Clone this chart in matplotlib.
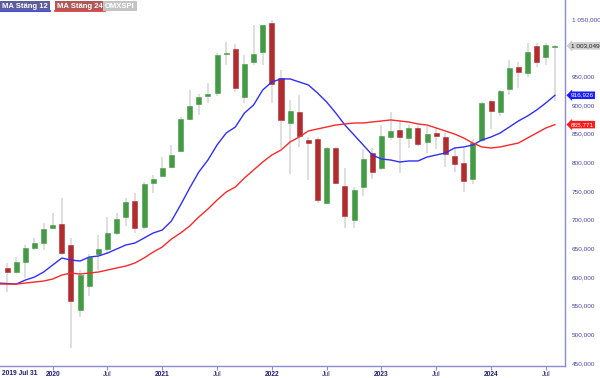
import matplotlib
matplotlib.use("Agg")
import matplotlib.pyplot as plt
from matplotlib.lines import Line2D
import numpy as np

# Månadsdata OMXSPI, aug 2019 - aug 2024
opens = [616, 609, 626, 651, 659, 686, 692, 656, 542, 584, 640, 649, 677, 705, 733, 687,
         764, 776, 792, 820, 876, 902, 916, 921, 989, 998, 914, 975, 992, 1043, 947, 869,
         888, 839, 841, 729, 825, 759, 699, 757, 816, 790, 844, 856, 842, 860, 835, 851,
         844, 811, 799, 771, 839, 907, 888, 928, 966, 956, 1003, 984, 1001]
highs = [624, 635, 656, 668, 694, 712, 738, 668, 612, 640, 673, 705, 712, 738, 747, 766,
         778, 809, 830, 879, 926, 919, 938, 991, 1010, 1006, 987, 1040, 1040, 1048, 961, 909,
         917, 844, 844, 827, 827, 790, 757, 823, 825, 865, 888, 874, 865, 863, 863, 860,
         851, 825, 825, 841, 906, 909, 926, 978, 975, 1008, 1008, 1008, 1005]
lows = [574, 607, 598, 647, 647, 686, 638, 476, 530, 567, 612, 640, 673, 689, 677, 684,
        747, 774, 790, 818, 874, 883, 903, 916, 970, 923, 903, 970, 970, 903, 825, 780,
        827, 769, 729, 727, 762, 686, 686, 741, 771, 787, 839, 781, 825, 829, 816, 823,
        792, 783, 748, 762, 836, 858, 881, 917, 930, 949, 966, 970, 907]
closes = [609, 626, 651, 659, 684, 691, 642, 558, 603, 635, 649, 677, 701, 731, 686, 762,
          771, 790, 813, 876, 898, 914, 919, 987, 991, 930, 972, 989, 1040, 937, 874, 890,
          846, 834, 734, 825, 764, 706, 752, 806, 783, 846, 855, 844, 860, 832, 849, 846,
          815, 797, 767, 834, 904, 890, 924, 965, 958, 992, 975, 1005, 1003.049]

# glidande medelvärden (första punkten = juli 2019)
ma12 = [589.6, 588.7, 587.8, 594.8, 600.0, 608.8, 621.0, 633.2, 629.7, 628.0, 634.9, 636.7,
        641.9, 648.9, 655.9, 659.3, 668.0, 676.8, 682.0, 697.7, 725.6, 755.3, 783.2, 804.1,
        830.3, 851.2, 861.6, 886.0, 900.0, 926.2, 940.1, 945.4, 945.4, 940.1, 934.9, 920.9,
        905.2, 886.0, 865.1, 847.7, 830.3, 812.8, 805.8, 804.1, 800.6, 802.4, 802.4, 809.3,
        812.8, 816.3, 825.0, 826.8, 830.3, 839.0, 844.2, 851.2, 861.6, 872.1, 880.8, 891.3,
        903.5, 916.926]
ma24 = [588.0, 587.8, 587.8, 589.6, 591.3, 593.1, 596.6, 603.5, 607.0, 605.3, 607.0, 608.8,
        612.3, 615.8, 619.2, 624.5, 633.2, 643.6, 652.4, 666.3, 676.8, 689.0, 704.7, 718.6,
        734.3, 748.3, 757.0, 772.7, 786.7, 800.6, 812.8, 821.5, 835.5, 844.2, 854.7, 858.2,
        861.6, 865.1, 866.9, 868.6, 868.6, 870.4, 872.1, 873.9, 872.1, 870.4, 866.9, 865.1,
        859.9, 854.7, 849.4, 842.5, 833.7, 826.8, 825.0, 826.8, 830.3, 833.7, 842.5, 851.2,
        859.9, 865.771]

tick_pos = [5, 11, 17, 23, 29, 35, 41, 47, 53, 59]
tick_labels = ["2020", "Jul", "2021", "Jul", "2022", "Jul", "2023", "Jul", "2024", "Jul"]
y_ticks = [450, 500, 550, 600, 650, 700, 750, 800, 850, 900, 950, 1050]


def fmt(v):
    s = f"{v:,.3f}"
    return s.replace(",", " ").replace(".", ",")


def main():
    plt.rcParams['font.family'] = ['Liberation Sans', 'DejaVu Sans']
    fig = plt.figure(figsize=(6, 3.78), dpi=100)
    ax = fig.add_axes([0, 12 / 378, 565 / 600, 366 / 378])

    x = np.arange(len(opens))
    o = np.array(opens, dtype=float)
    c = np.array(closes, dtype=float)
    up = c >= o
    green = '#459a45'
    red = '#b02c2f'
    cols = [green if u else red for u in up]

    ax.vlines(x, lows, highs, color='#d6d6d6', linewidth=1.1, zorder=1)
    bottoms = np.minimum(o, c)
    heights = np.maximum(np.abs(c - o), 1.5)
    ax.bar(x, heights, bottom=bottoms, width=0.55, color=cols, edgecolor=cols,
           linewidth=0.4, zorder=2)

    xm = np.arange(-1, len(opens))
    ax.plot(xm, ma12, color='#2f2ff5', linewidth=1.0, zorder=3)
    ax.plot(xm, ma24, color='#f52a2a', linewidth=1.0, zorder=3)

    ax.set_xlim(-0.77, 61.1)
    ax.set_ylim(445, 1083)

    for s in ['top', 'left']:
        ax.spines[s].set_visible(False)
    for s in ['right', 'bottom']:
        ax.spines[s].set_color('#8a8ad0')
        ax.spines[s].set_linewidth(1.0)

    ax.yaxis.tick_right()
    ax.set_yticks(y_ticks)
    ax.set_yticklabels([fmt(v) for v in y_ticks])
    ax.tick_params(axis='y', length=0, pad=5, labelsize=4.6, labelcolor='#45459a')

    ax.set_xticks(tick_pos)
    ax.set_xticklabels(tick_labels)
    ax.tick_params(axis='x', length=3, width=0.8, color='#8a8ad0', pad=0.5,
                   labelsize=4.8, labelcolor='#1c1c6e')
    for lab in ax.get_xticklabels():
        if lab.get_text() != "Jul":
            lab.set_fontweight('bold')
    fig.text(2 / 600, 1 - 377 / 378, "2019 Jul 31", fontsize=4.8, fontweight='bold',
             color='#1c1c6e', ha='left', va='bottom')

    # värdeetiketter vid högeraxeln
    tags = [(closes[-1], '#cfcfcf', '#222222'),
            (ma12[-1], '#1a1aff', 'white'),
            (ma24[-1], '#ff1a1a', 'white')]
    for val, bg, fg in tags:
        ax.annotate(fmt(val), xy=(1.0, val), xycoords=('axes fraction', 'data'),
                    xytext=(4, 0), textcoords='offset points', ha='left', va='center',
                    fontsize=4.6, color=fg, annotation_clip=False,
                    bbox=dict(boxstyle='larrow,pad=0.2', fc=bg, ec='none'))

    # förklaringsrutor
    legend = [("MA Stäng 12", 2, '#5d5d9e', '#2020ff'),
              ("MA Stäng 24", 57, '#b05858', '#ff2020'),
              ("OMXSPI", 105, '#c4c4c4', None)]
    for txt, px, bg, ul in legend:
        t = fig.text(px / 600, 1 - 6 / 378, txt, fontsize=5.5, fontweight='bold',
                     color='white', ha='left', va='center',
                     bbox=dict(boxstyle='square,pad=0.25', fc=bg, ec='none'))
        if ul:
            fig.canvas.draw()
            bb = t.get_bbox_patch().get_window_extent()
            fig.add_artist(Line2D([bb.x0 / 600, bb.x1 / 600],
                                  [bb.y0 / 378, bb.y0 / 378],
                                  color=ul, linewidth=1.2))

    fig.savefig("out.png", dpi=100)


if __name__ == "__main__":
    main()
